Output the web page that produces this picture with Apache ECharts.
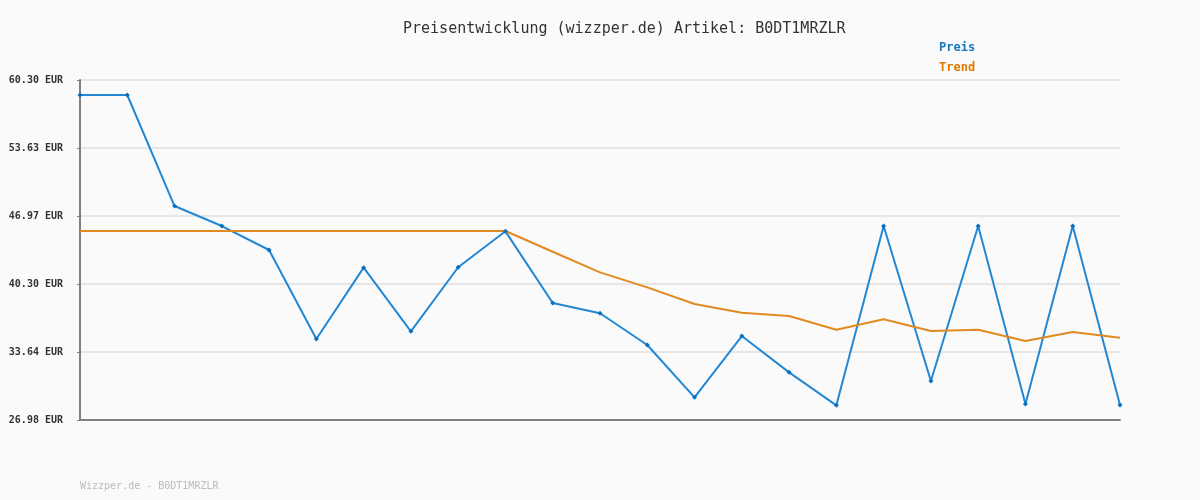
<!DOCTYPE html>
<html><head><meta charset="utf-8">
<script src="https://cdn.jsdelivr.net/npm/echarts@6/dist/echarts.min.js"></script>
<style>html,body{margin:0;padding:0;background:#fafafa}#c{width:1200px;height:500px}</style>
</head><body><div id="c"></div>
<script>
const categories = ['1','2','3','4','5','6','7','8','9','10','11','12','13','14','15','16','17','18','19','20','21','22','23'];
const preis = [58.83,58.83,47.95,45.99,43.64,34.92,41.91,35.67,41.95,45.47,38.45,37.44,34.33,29.20,35.21,31.65,28.42,45.99,30.80,45.99,28.55,45.99,28.45];
const trend = [45.50,45.50,45.50,45.50,45.50,45.50,45.50,45.50,45.50,45.50,43.47,41.45,39.98,38.35,37.49,37.17,35.83,36.85,35.70,35.83,34.72,35.60,35.05];
const yTicks = [26.98,33.64,40.30,46.97,53.63,60.30];
const chart = echarts.init(document.getElementById('c'));
chart.setOption({
  backgroundColor:'#fafafa',
  animation:false,
  title:{text:'Preisentwicklung (wizzper.de) Artikel: B0DT1MRZLR',left:398,top:17,
    textStyle:{fontFamily:'DejaVu Sans Mono',fontSize:15,fontWeight:'normal',color:'#333'}},
  legend:{orient:'vertical',left:929,top:37,itemWidth:0,itemHeight:0,itemGap:8,icon:'none',
    textStyle:{fontFamily:'DejaVu Sans Mono',fontSize:12,fontWeight:'bold'},
    data:[{name:'Preis',textStyle:{color:'#1478c0'}},{name:'Trend',textStyle:{color:'#e07800'}}]},
  grid:{left:80,right:80,top:80,bottom:80,containLabel:false},
  xAxis:{type:'category',data:categories,boundaryGap:false,
    axisLine:{lineStyle:{color:'#808080',width:2}},axisTick:{show:false},axisLabel:{show:false},splitLine:{show:false}},
  yAxis:{type:'value',min:26.98,max:60.30,
    axisLine:{show:true,lineStyle:{color:'#808080',width:2}},
    axisTick:{show:true,length:3,lineStyle:{color:'#808080'},customValues:yTicks},
    axisLabel:{customValues:yTicks,margin:17,formatter:v=>v.toFixed(2)+' EUR',
      fontFamily:'DejaVu Sans Mono',fontSize:10,fontWeight:'bold',color:'#333'},
    splitLine:{show:true,lineStyle:{color:'#e6e6e6',width:2}}},
  graphic:[{type:'text',left:80,top:481,style:{text:'Wizzper.de - B0DT1MRZLR',fill:'#bbb',
    font:'10px "DejaVu Sans Mono"'}}],
  series:[
    {name:'Preis',type:'line',data:preis,symbol:'diamond',symbolSize:5,
      lineStyle:{color:'#2288d4',width:2},itemStyle:{color:'#0a6fbf'}},
    {name:'Trend',type:'line',data:trend,symbol:'none',
      lineStyle:{color:'#e28a20',width:2},itemStyle:{color:'#e07800'}}
  ]
});
</script></body></html>
